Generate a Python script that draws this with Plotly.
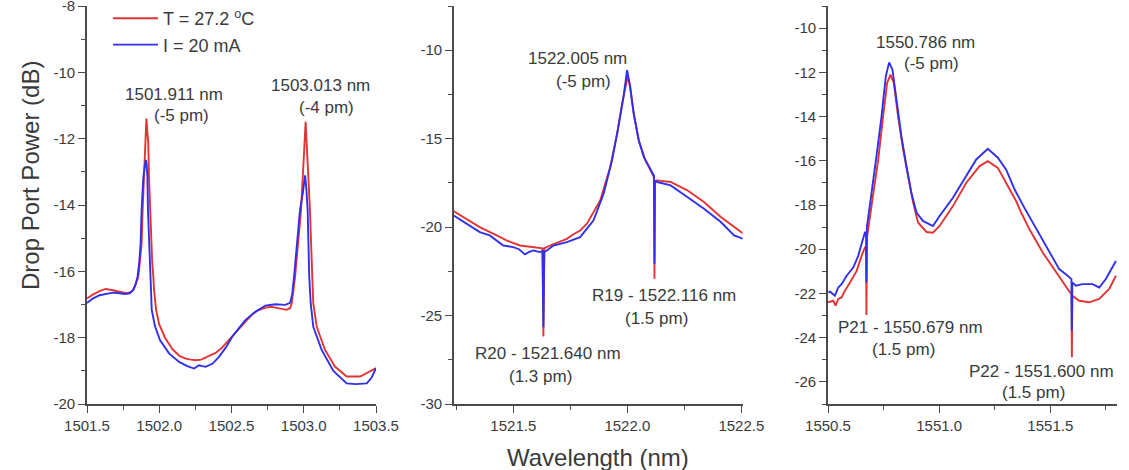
import plotly.graph_objects as go

# ---------------- data ----------------
# Panel 1 : 1501.5 - 1503.5 nm
p1_red_wl = [1501.500, 1501.540, 1501.590, 1501.630, 1501.680, 1501.725, 1501.770, 1501.800,
             1501.820, 1501.832, 1501.845, 1501.855, 1501.867, 1501.878, 1501.885, 1501.894,
             1501.901, 1501.906, 1501.911, 1501.916, 1501.924, 1501.929, 1501.936, 1501.943,
             1501.951, 1501.959, 1501.964, 1501.978, 1502.000, 1502.040, 1502.092, 1502.140,
             1502.183, 1502.220, 1502.252, 1502.290, 1502.321, 1502.360, 1502.390, 1502.430,
             1502.459, 1502.500, 1502.550, 1502.600, 1502.642, 1502.680, 1502.711, 1502.750,
             1502.780, 1502.820, 1502.860, 1502.880, 1502.905, 1502.917, 1502.940, 1502.962,
             1502.981, 1502.995, 1503.004, 1503.013, 1503.021, 1503.030, 1503.043, 1503.059,
             1503.066, 1503.090, 1503.147, 1503.216, 1503.297, 1503.390, 1503.458, 1503.500]
p1_red_db = [-16.82, -16.70, -16.59, -16.53, -16.57, -16.62, -16.66, -16.63,
             -16.56, -16.45, -16.30, -16.16, -15.65, -15.15, -14.15, -13.15,
             -12.14, -11.70, -11.39, -11.70, -12.14, -13.15, -14.15, -15.15,
             -15.70, -16.16, -16.56, -17.16, -17.60, -18.00, -18.35, -18.55,
             -18.63, -18.66, -18.68, -18.66, -18.60, -18.52, -18.46, -18.32,
             -18.18, -17.95, -17.72, -17.50, -17.30, -17.18, -17.13, -17.08,
             -17.07, -17.10, -17.14, -17.16, -17.11, -16.96, -16.16, -15.20,
             -14.15, -13.00, -12.20, -11.49, -12.20, -13.00, -14.15, -16.16,
             -16.96, -17.67, -18.37, -18.87, -19.17, -19.17, -19.02, -18.92]

p1_blue_wl = [1501.500, 1501.540, 1501.587, 1501.640, 1501.679, 1501.728, 1501.760, 1501.797,
              1501.820, 1501.835, 1501.850, 1501.862, 1501.871, 1501.878, 1501.890, 1501.899,
              1501.908, 1501.913, 1501.918, 1501.922, 1501.929, 1501.936, 1501.941, 1501.948,
              1501.970, 1502.005, 1502.069, 1502.138, 1502.190, 1502.229, 1502.241, 1502.275,
              1502.321, 1502.370, 1502.413, 1502.460, 1502.505, 1502.550, 1502.596, 1502.665,
              1502.734, 1502.803, 1502.872, 1502.906, 1502.920, 1502.933, 1502.955, 1502.974,
              1502.995, 1503.009, 1503.018, 1503.027, 1503.038, 1503.048, 1503.066, 1503.124,
              1503.205, 1503.297, 1503.360, 1503.436, 1503.470, 1503.500]
p1_blue_db = [-16.95, -16.82, -16.72, -16.67, -16.64, -16.66, -16.68, -16.66,
              -16.56, -16.40, -16.16, -15.70, -15.15, -14.15, -13.15, -12.85,
              -12.64, -12.80, -13.15, -14.15, -15.15, -16.16, -16.56, -17.16,
              -17.65, -18.07, -18.48, -18.73, -18.85, -18.90, -18.93, -18.83,
              -18.88, -18.78, -18.58, -18.30, -17.97, -17.72, -17.47, -17.22,
              -17.03, -16.99, -17.01, -16.95, -16.70, -16.16, -15.20, -14.15,
              -13.60, -13.10, -13.50, -14.15, -16.16, -16.96, -17.67, -18.37,
              -19.00, -19.38, -19.40, -19.38, -19.20, -18.92]

# Panel 2 : 1521.24 - 1522.5 nm
p2_red_wl = [1521.239, 1521.295, 1521.353, 1521.427, 1521.470, 1521.529, 1521.603, 1521.628,
             1521.632, 1521.636, 1521.661, 1521.735, 1521.764, 1521.793, 1521.823, 1521.881,
             1521.925, 1521.955, 1521.977, 1521.991, 1522.002, 1522.013, 1522.028, 1522.050,
             1522.079, 1522.109, 1522.117, 1522.119, 1522.121, 1522.131, 1522.190, 1522.263,
             1522.336, 1522.410, 1522.509]
p2_red_db = [-19.11, -19.53, -20.00, -20.47, -20.75, -21.04, -21.13, -21.20,
             -26.19, -21.20, -21.04, -20.66, -20.40, -20.19, -19.81, -18.49,
             -16.60, -14.72, -13.02, -12.08, -11.47, -12.08, -13.58, -15.09,
             -16.22, -16.98, -17.20, -22.92, -17.40, -17.36, -17.45, -17.92,
             -18.58, -19.43, -20.37]

p2_blue_wl = [1521.239, 1521.295, 1521.353, 1521.397, 1521.456, 1521.500, 1521.525, 1521.551,
              1521.570, 1521.588, 1521.617, 1521.628, 1521.632, 1521.636, 1521.647, 1521.676,
              1521.735, 1521.793, 1521.852, 1521.896, 1521.933, 1521.958, 1521.981, 1521.999,
              1522.010, 1522.028, 1522.050, 1522.072, 1522.104, 1522.117, 1522.119, 1522.121,
              1522.131, 1522.190, 1522.263, 1522.336, 1522.410, 1522.468, 1522.509]
p2_blue_db = [-19.34, -19.81, -20.28, -20.47, -21.04, -21.13, -21.25, -21.54,
              -21.40, -21.32, -21.41, -21.35, -25.66, -21.40, -21.32, -21.04,
              -20.85, -20.57, -19.62, -18.11, -16.22, -14.53, -12.83, -11.13,
              -11.89, -13.58, -15.09, -16.03, -16.79, -17.10, -22.07, -17.40,
              -17.45, -17.64, -18.30, -18.96, -19.71, -20.47, -20.66]

# Panel 3 : 1550.5 - 1551.8 nm
p3_red_wl = [1550.501, 1550.524, 1550.534, 1550.546, 1550.561, 1550.572, 1550.599, 1550.629,
             1550.651, 1550.666, 1550.671, 1550.673, 1550.675, 1550.685, 1550.703, 1550.726,
             1550.748, 1550.766, 1550.781, 1550.796, 1550.815, 1550.838, 1550.860, 1550.883,
             1550.905, 1550.943, 1550.972, 1551.002, 1551.062, 1551.122, 1551.182, 1551.219,
             1551.264, 1551.301, 1551.346, 1551.369, 1551.406, 1551.466, 1551.525, 1551.578,
             1551.595, 1551.597, 1551.599, 1551.630, 1551.675, 1551.720, 1551.765, 1551.795]
p3_red_db = [-22.40, -22.33, -22.55, -22.25, -22.18, -21.95, -21.50, -20.98,
             -20.30, -19.92, -19.90, -22.97, -19.50, -18.80, -17.59, -15.94,
             -13.98, -12.48, -12.10, -12.48, -13.98, -15.49, -16.69, -17.89,
             -18.79, -19.22, -19.25, -18.95, -18.05, -16.99, -16.24, -16.02,
             -16.32, -16.99, -17.82, -18.34, -19.10, -20.15, -21.05, -21.80,
             -22.03, -24.89, -22.10, -22.33, -22.40, -22.25, -21.80, -21.20]

p3_blue_wl = [1550.501, 1550.509, 1550.531, 1550.546, 1550.561, 1550.584, 1550.614, 1550.636,
              1550.655, 1550.666, 1550.671, 1550.673, 1550.675, 1550.681, 1550.696, 1550.718,
              1550.741, 1550.760, 1550.775, 1550.790, 1550.808, 1550.830, 1550.853, 1550.875,
              1550.898, 1550.927, 1550.972, 1551.002, 1551.062, 1551.122, 1551.167, 1551.219,
              1551.264, 1551.301, 1551.339, 1551.383, 1551.421, 1551.481, 1551.540, 1551.578,
              1551.595, 1551.597, 1551.599, 1551.615, 1551.645, 1551.690, 1551.720, 1551.750,
              1551.795]
p3_blue_db = [-21.95, -21.92, -22.10, -21.73, -21.58, -21.20, -20.82, -20.30,
              -19.62, -19.24, -19.24, -21.50, -19.00, -18.50, -17.44, -15.79,
              -13.98, -12.18, -11.55, -11.88, -13.23, -14.89, -16.24, -17.44,
              -18.34, -18.72, -18.95, -18.50, -17.67, -16.69, -15.94, -15.46,
              -15.86, -16.39, -17.29, -18.12, -18.80, -19.85, -20.90, -21.20,
              -21.35, -23.69, -21.50, -21.65, -21.58, -21.58, -21.73, -21.35,
              -20.53]

series_names = ["T = 27.2 <sup>o</sup>C", "I = 20 mA"]
series_colors = ["rgb(226,52,52)", "rgb(48,48,236)"]

# axis ticks: (first major tick, major step, minor step)
p1_xtick = (1501.5, 0.5, 0.25)
p1_yticks = [-20, -18, -16, -14, -12, -10, -8]
p1_ytick = (-20, 2, 1)
p2_xtick = (1521.5, 0.5, 0.25)
p2_yticks = [-30, -25, -20, -15, -10]
p2_ytick = (-30, 5, 2.5)
p3_xtick = (1550.5, 0.5, 0.25)
p3_yticks = [-26, -24, -22, -20, -18, -16, -14, -12, -10]
p3_ytick = (-26, 2, 1)

# annotations: (text, axis index, wavelength, power)
labels = [
    ("1501.911 nm", 1, 1502.1055, -10.65),
    ("(-5 pm)", 1, 1502.1526, -11.31),
    ("1503.013 nm", 1, 1503.1145, -10.40),
    ("(-4 pm)", 1, 1503.1554, -11.07),
    ("1522.005 nm", 2, 1521.7824, -10.45),
    ("(-5 pm)", 2, 1521.808, -11.74),
    ("R19 - 1522.116 nm", 2, 1522.160, -23.87),
    ("(1.5 pm)", 2, 1522.129, -25.14),
    ("R20 - 1521.640 nm", 2, 1521.654, -27.17),
    ("(1.3 pm)", 2, 1521.620, -28.44),
    ("1550.786 nm", 3, 1550.9386, -10.63),
    ("(-5 pm)", 3, 1550.9673, -11.62),
    ("P21 - 1550.679 nm", 3, 1550.8713, -23.56),
    ("(1.5 pm)", 3, 1550.8395, -24.54),
    ("P22 - 1551.600 nm", 3, 1551.4583, -25.53),
    ("(1.5 pm)", 3, 1551.426, -26.50),
]

# ---------------- figure ----------------
W, H = 1129, 470
FONT = "Arial, 'Liberation Sans', sans-serif"
TXT = "#3a3a3a"
AX = "#4a4a4a"
MINOR_LEN = 4

fig = go.Figure()
panels = [
    (p1_red_wl, p1_red_db, p1_blue_wl, p1_blue_db),
    (p2_red_wl, p2_red_db, p2_blue_wl, p2_blue_db),
    (p3_red_wl, p3_red_db, p3_blue_wl, p3_blue_db),
]
for i, (rw, rd, bw, bd) in enumerate(panels):
    xa = "x" if i == 0 else f"x{i+1}"
    ya = "y" if i == 0 else f"y{i+1}"
    fig.add_trace(go.Scatter(x=rw, y=rd, mode="lines", xaxis=xa, yaxis=ya,
                             line=dict(color=series_colors[0], width=1.9),
                             name=series_names[0], showlegend=(i == 0)))
    fig.add_trace(go.Scatter(x=bw, y=bd, mode="lines", xaxis=xa, yaxis=ya,
                             line=dict(color=series_colors[1], width=1.9),
                             name=series_names[1], showlegend=(i == 0)))

def px_x(a, b):
    return [a / W, b / W]

ytop, ybot = 6, 404
ydom = [1 - ybot / H, 1 - ytop / H]

common_axis = dict(showline=True, linecolor=AX, linewidth=1.6, ticks="outside",
                   ticklen=7, tickwidth=1.4, tickcolor=AX, showgrid=False, zeroline=False,
                   mirror=False, ticklabeloverflow="allow",
                   tickfont=dict(family=FONT, size=15, color=TXT))

xcfg = [
    ([1501.5, 1503.5], p1_xtick, px_x(87, 376)),
    ([1521.24, 1522.505], p2_xtick, px_x(454, 742.5)),
    ([1550.5, 1551.8], p3_xtick, px_x(828, 1117)),
]
ycfg = [
    ([-20, -7.995], p1_yticks, p1_ytick),
    ([-30, -7.5], p2_yticks, p2_ytick),
    ([-27, -9], p3_yticks, p3_ytick),
]
for i in range(3):
    rng, (t0, dt, mdt), dom = xcfg[i]
    yr, ytv, (yt0, ydt, ymdt) = ycfg[i]
    xk = "xaxis" if i == 0 else f"xaxis{i+1}"
    yk = "yaxis" if i == 0 else f"yaxis{i+1}"
    fig.layout[xk] = dict(common_axis, range=rng, domain=dom, tickmode="linear",
                          tick0=t0, dtick=dt, tickformat=".1f",
                          anchor="y" if i == 0 else f"y{i+1}",
                          minor=dict(ticks="outside", ticklen=MINOR_LEN, tickwidth=1.2,
                                     tickcolor=AX, tickmode="linear", tick0=t0, dtick=mdt,
                                     showgrid=False))
    fig.layout[yk] = dict(common_axis, range=yr, domain=ydom, tickmode="array",
                          tickvals=ytv, ticktext=[f"{v:g}" for v in ytv],
                          anchor="x" if i == 0 else f"x{i+1}",
                          minor=dict(ticks="outside", ticklen=MINOR_LEN, tickwidth=1.2,
                                     tickcolor=AX, tickmode="linear", tick0=yt0, dtick=ymdt,
                                     showgrid=False))

annots = []
for text, ax, xv, yv in labels:
    annots.append(dict(text=text, x=xv, y=yv,
                       xref="x" if ax == 1 else f"x{ax}",
                       yref="y" if ax == 1 else f"y{ax}",
                       showarrow=False, xanchor="center", yanchor="middle",
                       font=dict(family=FONT, size=17, color=TXT)))
# axis titles
annots.append(dict(text="Drop Port Power (dB)", x=30 / W, y=1 - 176 / H, xref="paper",
                   yref="paper", showarrow=False, textangle=-90, xanchor="center",
                   yanchor="middle", font=dict(family=FONT, size=24, color=TXT)))
annots.append(dict(text="Wavelength (nm)", x=598 / W, y=1 - 457 / H, xref="paper",
                   yref="paper", showarrow=False, xanchor="center", yanchor="middle",
                   font=dict(family=FONT, size=24, color=TXT)))

fig.update_layout(
    width=W, height=H, margin=dict(l=0, r=0, t=0, b=0, autoexpand=False),
    paper_bgcolor="white", plot_bgcolor="white",
    annotations=annots,
    showlegend=True,
    legend=dict(x=108 / W, y=1.0, xanchor="left", yanchor="top",
                bgcolor="rgba(0,0,0,0)", font=dict(family=FONT, size=18, color=TXT),
                itemwidth=45, tracegroupgap=0),
)

fig.write_html("out.html", config={"displayModeBar": False},
               post_script="document.body.style.margin='0px';"
                           "document.body.style.padding='0px';")
